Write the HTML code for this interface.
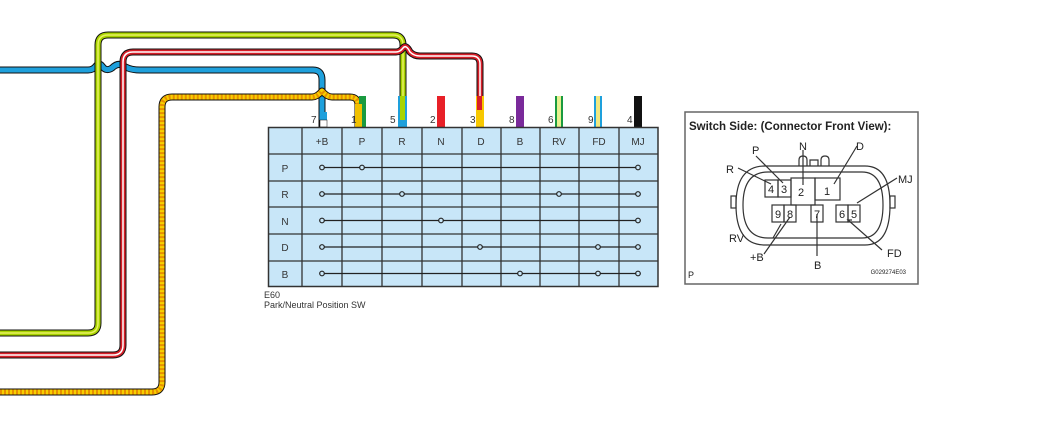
<!DOCTYPE html>
<html><head><style>
body{margin:0;background:#fff;}
svg{display:block;font-family:"Liberation Sans",Arial,sans-serif;}
</style></head><body>
<svg width="1052" height="442" viewBox="0 0 1052 442" xmlns="http://www.w3.org/2000/svg">
<g fill="none" stroke-linejoin="round">
<!-- blue wire -->
<path id="bl" d="M0 70 H88 Q93 70 96 66 Q99 62 102 66 Q106 72 112 68 Q118 62 124 66 Q130 70 140 70 H313 Q322 70 322 80 V127" stroke="#111" stroke-width="7"/>
<path d="M0 70 H88 Q93 70 96 66 Q99 62 102 66 Q106 72 112 68 Q118 62 124 66 Q130 70 140 70 H313 Q322 70 322 80 V120" stroke="#1ea0dc" stroke-width="5"/>
<!-- green wire -->
<path d="M0 333 H88 Q98 333 98 323 V45 Q98 35 108 35 H393 Q403 35 403 45 V127" stroke="#111" stroke-width="7"/>
<path d="M0 333 H88 Q98 333 98 323 V45 Q98 35 108 35 H393 Q403 35 403 45 V122" stroke="#a8d400" stroke-width="5"/>
<path d="M0 333 H88 Q98 333 98 323 V45 Q98 35 108 35 H393 Q403 35 403 45 V122" stroke="#e8f060" stroke-width="1.5"/>
<!-- red wire -->
<path d="M0 355 H113 Q123 355 123 345 V62 Q123 52 133 52 H396 Q400 52 403 48 Q406 44 410 52 Q414 56 420 56 H472 Q480 56 480 64 V127" stroke="#111" stroke-width="7"/>
<path d="M0 355 H113 Q123 355 123 345 V62 Q123 52 133 52 H396 Q400 52 403 48 Q406 44 410 52 Q414 56 420 56 H472 Q480 56 480 64 V110" stroke="#d81e28" stroke-width="5"/>
<path d="M0 355 H113 Q123 355 123 345 V62 Q123 52 133 52 H396 Q400 52 403 48 Q406 44 410 52 Q414 56 420 56 H472 Q480 56 480 64 V110" stroke="#fff" stroke-width="1.5"/>
<!-- yellow wire -->
<path d="M0 392 H152 Q162 392 162 382 V107 Q162 97 172 97 H312 Q317 97 322 91 Q327 97 332 97 H350 Q358 97 358 105 V127" stroke="#111" stroke-width="7"/>
<path d="M0 392 H152 Q162 392 162 382 V107 Q162 97 172 97 H312 Q317 97 322 91 Q327 97 332 97 H350 Q358 97 358 105 V124" stroke="#f7d000" stroke-width="5"/>
<path d="M0 392 H152 Q162 392 162 382 V107 Q162 97 172 97 H312 Q317 97 322 91 Q327 97 332 97 H350 Q358 97 358 105 V124" stroke="#e89000" stroke-width="5" stroke-dasharray="2 2"/>
</g>
<!-- pin stubs -->
<rect x="320" y="112" width="7" height="15" fill="#1ea0dc"/><rect x="320" y="120" width="7" height="7" fill="#fff" stroke="#111" stroke-width="0.5"/>
<rect x="359" y="96" width="7" height="31" fill="#1a9a40"/><rect x="355" y="104" width="7" height="23" fill="#f0c000"/>
<rect x="398" y="96" width="9" height="31" fill="#1ea0dc"/><rect x="400" y="96" width="5" height="24" fill="#a8d400"/>
<rect x="437" y="96" width="8" height="31" fill="#e82028"/>
<rect x="476" y="96" width="8" height="31" fill="#f7c800"/><rect x="477" y="96" width="5" height="14" fill="#d81e28"/>
<rect x="516" y="96" width="8" height="31" fill="#7a2a9a"/>
<rect x="555" y="96" width="8" height="31" fill="#1a9a40"/><rect x="557" y="96" width="4" height="31" fill="#e8f090"/>
<rect x="594" y="96" width="8" height="31" fill="#1ea0dc"/><rect x="596" y="96" width="4" height="31" fill="#f0e880"/>
<rect x="634" y="96" width="8" height="31" fill="#111"/>
<g font-size="10" fill="#333">
<text x="311" y="123">7</text><text x="351" y="123">1</text><text x="390" y="123">5</text><text x="430" y="123">2</text><text x="470" y="123">3</text><text x="509" y="123">8</text><text x="548" y="123">6</text><text x="588" y="123">9</text><text x="627" y="123">4</text>
</g>
<!-- table -->
<rect x="268.5" y="127.5" width="389.5" height="159" fill="#c8e6f8" stroke="#333" stroke-width="1.5"/>
<g stroke="#333" stroke-width="1.3">
<line x1="302" y1="127" x2="302" y2="287"/><line x1="342" y1="127" x2="342" y2="287"/><line x1="382" y1="127" x2="382" y2="287"/><line x1="422" y1="127" x2="422" y2="287"/><line x1="462" y1="127" x2="462" y2="287"/><line x1="501" y1="127" x2="501" y2="287"/><line x1="540" y1="127" x2="540" y2="287"/><line x1="579" y1="127" x2="579" y2="287"/><line x1="619" y1="127" x2="619" y2="287"/>
<line x1="268" y1="154" x2="658" y2="154"/><line x1="268" y1="181" x2="658" y2="181"/><line x1="268" y1="207" x2="658" y2="207"/><line x1="268" y1="234" x2="658" y2="234"/><line x1="268" y1="261" x2="658" y2="261"/>
</g>
<g font-size="10" fill="#333" text-anchor="middle">
<text x="322" y="145">+B</text><text x="362" y="145">P</text><text x="402" y="145">R</text><text x="441" y="145">N</text><text x="481" y="145">D</text><text x="520" y="145">B</text><text x="559" y="145">RV</text><text x="599" y="145">FD</text><text x="638" y="145">MJ</text>
<text x="285" y="172">P</text><text x="285" y="198">R</text><text x="285" y="225">N</text><text x="285" y="251">D</text><text x="285" y="278">B</text>
</g>
<g stroke="#222" stroke-width="1.2" fill="#c8e6f8">
<line x1="322" y1="167.5" x2="638" y2="167.5"/><line x1="322" y1="194" x2="638" y2="194"/><line x1="322" y1="220.5" x2="638" y2="220.5"/><line x1="322" y1="247" x2="638" y2="247"/><line x1="322" y1="273.5" x2="638" y2="273.5"/>
<circle cx="322" cy="167.5" r="2.3"/><circle cx="362" cy="167.5" r="2.3"/><circle cx="638" cy="167.5" r="2.3"/>
<circle cx="322" cy="194" r="2.3"/><circle cx="402" cy="194" r="2.3"/><circle cx="559" cy="194" r="2.3"/><circle cx="638" cy="194" r="2.3"/>
<circle cx="322" cy="220.5" r="2.3"/><circle cx="441" cy="220.5" r="2.3"/><circle cx="638" cy="220.5" r="2.3"/>
<circle cx="322" cy="247" r="2.3"/><circle cx="480" cy="247" r="2.3"/><circle cx="598" cy="247" r="2.3"/><circle cx="638" cy="247" r="2.3"/>
<circle cx="322" cy="273.5" r="2.3"/><circle cx="520" cy="273.5" r="2.3"/><circle cx="598" cy="273.5" r="2.3"/><circle cx="638" cy="273.5" r="2.3"/>
</g>
<text x="264" y="298" font-size="9" fill="#333">E60</text>
<text x="264" y="308" font-size="9" fill="#333">Park/Neutral Position SW</text>
<!-- connector view -->
<rect x="685" y="112" width="233" height="172" fill="#fff" stroke="#666" stroke-width="1.5"/>
<text x="689" y="130" font-size="11.5" font-weight="bold" fill="#222">Switch Side: (Connector Front View):</text>
<g fill="none" stroke="#333" stroke-width="1.2">
<path d="M765 166 H865 Q890 166 890 205 Q890 245 865 245 H765 Q736 245 736 205 Q736 166 765 166 Z"/>
<path d="M768 172 H862 Q883 172 883 205 Q883 238 862 238 H768 Q743 238 743 205 Q743 172 768 172 Z"/>
<path d="M799 166 V160 Q799 156 803 156 Q807 156 807 160 V166 M810 166 V160 H818 V166 M821 166 V160 Q821 156 825 156 Q829 156 829 160 V166"/>
<rect x="731" y="196" width="5" height="12"/><rect x="890" y="196" width="5" height="12"/>
<rect x="765" y="180" width="13" height="17"/><rect x="778" y="180" width="13" height="17"/>
<rect x="791" y="178" width="24" height="27"/><rect x="815" y="178" width="25" height="22"/>
<rect x="772" y="205" width="12" height="17"/><rect x="784" y="205" width="12" height="17"/>
<rect x="811" y="205" width="12" height="17"/>
<rect x="836" y="205" width="12" height="17"/><rect x="848" y="205" width="12" height="17"/>
<path d="M738 168 L771 184 M756 156 L783 183 M803 150 L803 185 M857 146 L834 184 M897 178 L857 203 M773 238 L781 224 M764 254 L790 217 M817 256 L817 214 M882 250 L848 220 L852 220"/>
</g>
<g font-size="11" fill="#222">
<text x="768" y="193">4</text><text x="781" y="193">3</text><text x="798" y="196">2</text><text x="824" y="195">1</text>
<text x="775" y="218">9</text><text x="787" y="218">8</text><text x="814" y="218">7</text><text x="839" y="218">6</text><text x="851" y="218">5</text>
<text x="726" y="173">R</text><text x="752" y="154">P</text><text x="799" y="150">N</text><text x="856" y="150">D</text><text x="898" y="183">MJ</text>
<text x="729" y="242">RV</text><text x="750" y="261">+B</text><text x="814" y="269">B</text><text x="887" y="257">FD</text>
<text x="688" y="278" font-size="9">P</text>
<text x="906" y="274" font-size="6" text-anchor="end">G029274E03</text>
</g>
</svg>
</body></html>
